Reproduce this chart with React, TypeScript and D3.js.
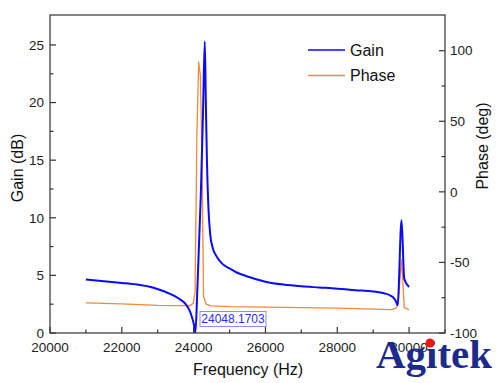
import React from "react";
import * as d3 from "d3";

const gainFreq = [21000, 21500, 22000, 22500, 22800, 23050, 23300, 23500, 23650, 23780, 23880, 23960, 24010, 24048, 24100, 24200, 24260, 24310, 24340, 24370, 24410, 24460, 24530, 24650, 24800, 25000, 25200, 25500, 26000, 26500, 27000, 27500, 28000, 28500, 29000, 29300, 29480, 29580, 29640, 29680, 29790, 29865, 30000];
const gainValues = [4.65, 4.5, 4.35, 4.17, 4.0, 3.75, 3.45, 3.15, 2.85, 2.5, 2.0, 1.3, 0.7, 0.0, 3.5, 12, 19, 25.3, 20, 15, 11, 8.6, 7.4, 6.6, 6.0, 5.6, 5.25, 4.9, 4.45, 4.2, 4.05, 3.95, 3.85, 3.72, 3.6, 3.45, 3.25, 3.0, 2.7, 2.4, 9.8, 4.7, 4.0];

const phaseFreq = [21000, 21500, 22000, 22500, 23000, 23500, 23900, 23990, 24040, 24090, 24140, 24190, 24240, 24275, 24345, 24500, 25000, 26000, 27000, 28000, 29000, 29500, 29620, 29690, 29790, 29865, 30000];
const phaseValues = [-78.6, -79.0, -79.4, -79.9, -80.4, -80.6, -80.5, -79, -71, 40, 92, 82, 10, -74, -79.5, -80.8, -81.3, -81.7, -82.0, -82.4, -83.1, -83.4, -82.5, -80, -48, -82, -83.5];

const xTicks = [20000, 22000, 24000, 26000, 28000, 30000];
const xMinor = [21000, 23000, 25000, 27000, 29000, 31000];
const gainTicks = [0, 5, 10, 15, 20, 25];
const gainMinor = [2.5, 7.5, 12.5, 17.5, 22.5];
const phaseTicks = [-100, -50, 0, 50, 100];
const phaseMinor = [-75, -25, 25, 75];

const seriesNames = ["Gain", "Phase"];
const markerLabel = "24048.1703";

const W = 499, H = 383;
const L = 50, R = 445, T = 15, B = 333;
const FONT = "'Liberation Sans', Arial, sans-serif";
const BLUE = "#0a0aff";
const ORANGE = "#f5883a";
const AX = "#333";

export default function App() {
  const x = d3.scaleLinear().domain([20000, 31000]).range([L, R]);
  const yG = d3.scaleLinear().domain([0, 27.6]).range([B, T]);
  const yP = d3.scaleLinear().domain([-100, 125.3]).range([B, T]);

  const gainLine = d3.line<number>().curve(d3.curveMonotoneX).x((d, i) => x(gainFreq[i])).y((d) => yG(d))(gainValues) || "";
  const phaseLine = d3.line<number>().x((d, i) => x(phaseFreq[i])).y((d) => yP(d))(phaseValues) || "";

  return (
    <svg width={W} height={H} style={{ position: "absolute", left: 0, top: 0, background: "#fff" }} fontFamily={FONT}>
      <rect x={0} y={0} width={W} height={H} fill="#fff" />
      <defs>
        <clipPath id="plot">
          <rect x={L} y={T} width={R - L} height={B - T} />
        </clipPath>
      </defs>

      <g clipPath="url(#plot)">
        <path d={phaseLine} fill="none" stroke={ORANGE} strokeWidth={1.3} strokeLinejoin="round" />
        <path d={gainLine} fill="none" stroke={BLUE} strokeWidth={2} strokeLinejoin="round" />
      </g>

      {/* frame */}
      <rect x={L} y={T} width={R - L} height={B - T} fill="none" stroke={AX} strokeWidth={1.2} />

      {/* x ticks */}
      {xTicks.map((t) => (
        <g key={"x" + t}>
          <line x1={x(t)} x2={x(t)} y1={B} y2={B - 6} stroke={AX} strokeWidth={1.2} />
          <text x={x(t)} y={B + 18.5} textAnchor="middle" fontSize={13.5} fill="#222">{t}</text>
        </g>
      ))}
      {xMinor.map((t) => (
        <line key={"xm" + t} x1={x(t)} x2={x(t)} y1={B} y2={B - 3.5} stroke={AX} strokeWidth={1.2} />
      ))}

      {/* left ticks */}
      {gainTicks.map((t) => (
        <g key={"g" + t}>
          <line x1={L} x2={L + 6} y1={yG(t)} y2={yG(t)} stroke={AX} strokeWidth={1.2} />
          <text x={L - 6} y={yG(t)} dy="0.35em" textAnchor="end" fontSize={13.5} fill="#222">{t}</text>
        </g>
      ))}
      {gainMinor.map((t) => (
        <line key={"gm" + t} x1={L} x2={L + 3.5} y1={yG(t)} y2={yG(t)} stroke={AX} strokeWidth={1.2} />
      ))}

      {/* right ticks */}
      {phaseTicks.map((t) => (
        <g key={"p" + t}>
          <line x1={R} x2={R - 6} y1={yP(t)} y2={yP(t)} stroke={AX} strokeWidth={1.2} />
          <text x={R + 5} y={yP(t)} dy="0.35em" textAnchor="start" fontSize={13.5} fill="#222">{t}</text>
        </g>
      ))}
      {phaseMinor.map((t) => (
        <line key={"pm" + t} x1={R} x2={R - 3.5} y1={yP(t)} y2={yP(t)} stroke={AX} strokeWidth={1.2} />
      ))}

      {/* axis titles */}
      <text x={248} y={375} textAnchor="middle" fontSize={16} fill="#111">Frequency (Hz)</text>
      <text transform={`translate(23,168) rotate(-90)`} textAnchor="middle" fontSize={16} fill="#111">Gain (dB)</text>
      <text transform={`translate(480,146) rotate(-90)`} textAnchor="middle" fontSize={16} fill="#111" dominantBaseline="hanging" dy="-0.2em">Phase (deg)</text>

      {/* legend */}
      <line x1={308} x2={345} y1={50} y2={50} stroke={BLUE} strokeWidth={1.5} />
      <text x={350} y={50} dy="0.35em" fontSize={16} fill="#111">{seriesNames[0]}</text>
      <line x1={308} x2={345} y1={75.5} y2={75.5} stroke={ORANGE} strokeWidth={1.5} />
      <text x={350} y={75.5} dy="0.35em" fontSize={16} fill="#111">{seriesNames[1]}</text>

      {/* marker label */}
      <rect x={200} y={311.5} width={66} height={15} fill="#fff" stroke="#8c8cff" strokeWidth={1} />
      <text x={233} y={319} dy="0.36em" textAnchor="middle" fontSize={12} fill="#2a2aff">{markerLabel}</text>

      {/* logo */}
      <text x={376} y={368} fontFamily="'Liberation Serif', 'Times New Roman', serif" fontWeight="bold" fontSize={40} fill="#1c2a8e" textLength={116} lengthAdjust="spacingAndGlyphs">Agitek</text>
      <circle cx={430} cy={343} r={4.5} fill="#ff1010" />
    </svg>
  );
}
